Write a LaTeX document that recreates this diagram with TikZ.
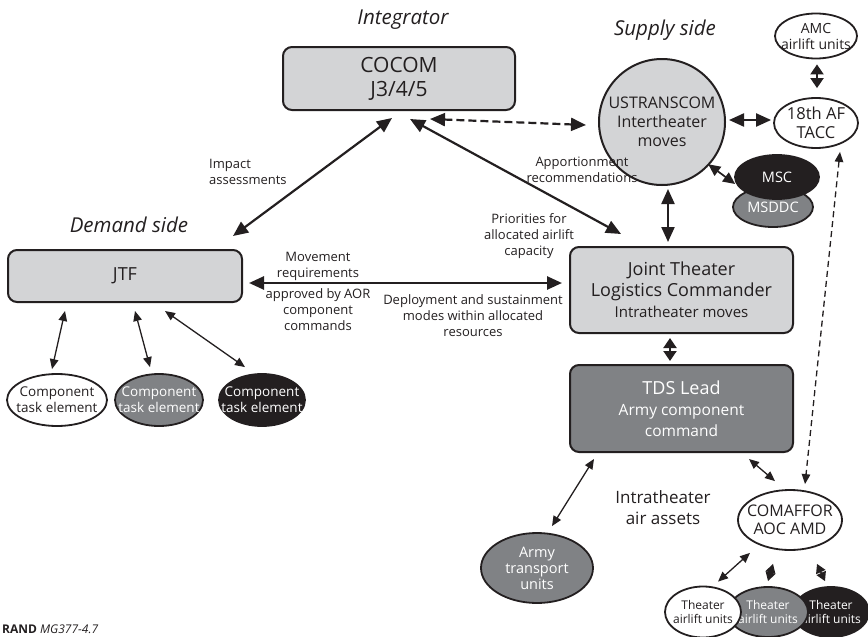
\documentclass[tikz,border=0pt]{standalone}
\usepackage{fontspec}
\setmainfont{Open Sans}
\usetikzlibrary{arrows.meta, calc, positioning, shapes.geometric}

\definecolor{boxgray}{RGB}{211,212,214}
\definecolor{midgray}{RGB}{128,130,133}
\definecolor{ink}{RGB}{35,31,32}

\tikzset{
    box/.style={draw=ink, line width=2pt, rounded corners=9pt,
        fill=boxgray, text=ink, align=center, inner sep=0pt},
    oval/.style={ellipse, draw=ink, line width=1.8pt, inner sep=0pt},
    ovtxt/.style={align=center, inner sep=0pt, text=ink},
    note/.style={align=center, inner sep=0pt, text=ink,
        font=\fontsize{13}{16}\selectfont},
    side/.style={inner sep=0pt, text=ink,
        font=\fontsize{20.5}{24}\selectfont\itshape},
    bigarr/.style={{Triangle[length=15pt, width=13pt]}-{Triangle[length=15pt, width=13pt]},
        draw=ink, line width=2.2pt},
    stubarr/.style={{Triangle[length=10pt, width=13pt]}-{Triangle[length=10pt, width=13pt]},
        draw=ink, line width=2pt},
    midarr/.style={{Triangle[length=12pt, width=11pt]}-{Triangle[length=12pt, width=11pt]},
        draw=ink, line width=1.7pt},
    slimarr/.style={{Triangle[length=10pt, width=8.5pt]}-{Triangle[length=10pt, width=8.5pt]},
        draw=ink, line width=1.3pt},
    slimstub/.style={{Triangle[length=9pt, width=10pt]}-{Triangle[length=9pt, width=10pt]},
        draw=ink, line width=1.5pt},
}

\begin{document}
\begin{tikzpicture}[x=1pt, y=-1pt]
    \useasboundingbox (0,0) rectangle (868,637);
    % headings
    \node[side] (integ) at (403,20) {Integrator};
    \node[side] (supply) at (665,30) {Supply side};
    \node[side] (demand) at (129,225) {Demand side};
    % command boxes
    \node[box, minimum width=232pt, minimum height=63pt,
        font=\fontsize{21}{24}\selectfont] (cocom) at (399,78.5) {COCOM\\J3/4/5};
    \node[box, minimum width=234pt, minimum height=52pt,
        font=\fontsize{18}{21}\selectfont] (jtf) at (125,276) {JTF};
    \node[box, minimum width=223pt, minimum height=86pt,
        font=\fontsize{18}{21}\selectfont] (jtlc) at (681.5,290)
        {Joint Theater\\Logistics Commander\\{\fontsize{15}{18}\selectfont Intratheater moves}};
    \node[box, fill=midgray, text=white, minimum width=223pt, minimum height=87pt,
        font=\fontsize{18}{21}\selectfont] (tds) at (681.5,408.5)
        {TDS Lead\\{\fontsize{15.5}{18}\selectfont Army component}\\{\fontsize{15.5}{18}\selectfont command}};
    % supply side
    \node[circle, draw=ink, line width=2pt, fill=boxgray, minimum size=126pt,
        inner sep=0pt, align=center, text=ink,
        font=\fontsize{16}{19}\selectfont] (ustc) at (662,122)
        {USTRANSCOM\\Intertheater\\moves};
    \node[oval, fill=white, minimum width=82pt, minimum height=45pt,
        label={[ovtxt, font=\fontsize{14}{16}\selectfont]center:{AMC\\airlift units}}] (amc) at (816,36) {};
    \node[oval, fill=white, minimum width=84pt, minimum height=50pt,
        label={[ovtxt, font=\fontsize{16.5}{19}\selectfont]center:{18th AF\\TACC}}] (tacc) at (816,123) {};
    \node[oval, fill=midgray, minimum width=80pt, minimum height=40pt,
        label={[ovtxt, text=white, font=\fontsize{14.5}{17}\selectfont]center:MSDDC}] (msddc) at (773,207) {};
    \node[oval, fill=ink, minimum width=84pt, minimum height=44pt,
        label={[ovtxt, text=white, font=\fontsize{14.5}{17}\selectfont]center:MSC}] (msc) at (777,177) {};
    % component task elements
    \node[oval, fill=white, minimum width=100pt, minimum height=52pt,
        label={[ovtxt, font=\fontsize{13.5}{16}\selectfont]center:{Component\\task element}}] (cte1) at (57,400) {};
    \node[oval, fill=midgray, minimum width=88pt, minimum height=52pt,
        label={[ovtxt, text=white, font=\fontsize{13.5}{16}\selectfont]center:{Component\\task element}}] (cte2) at (159,400) {};
    \node[oval, fill=ink, minimum width=86pt, minimum height=52pt,
        label={[ovtxt, text=white, font=\fontsize{13.5}{16}\selectfont]center:{Component\\task element}}] (cte3) at (262,400) {};
    % intratheater assets
    \node[oval, fill=midgray, minimum width=112pt, minimum height=70pt,
        label={[ovtxt, text=white, font=\fontsize{14.5}{16}\selectfont]center:{Army\\transport\\units}}] (army) at (537,568) {};
    \node[oval, fill=white, minimum width=104pt, minimum height=60pt,
        label={[ovtxt, font=\fontsize{16}{18}\selectfont]center:{COMAFFOR\\AOC AMD}}] (comaffor) at (790,520) {};
    \node[oval, fill=ink, minimum width=76pt, minimum height=50pt,
        label={[ovtxt, text=white, font=\fontsize{12}{14}\selectfont]center:{Theater\\airlift units}}] (thblack) at (831,612) {};
    \node[oval, fill=midgray, minimum width=80pt, minimum height=50pt,
        label={[ovtxt, text=white, font=\fontsize{12}{14}\selectfont]center:{Theater\\airlift units}}] (thgray) at (768,612) {};
    \node[oval, fill=white, minimum width=76pt, minimum height=51pt,
        label={[ovtxt, font=\fontsize{12}{14}\selectfont]center:{Theater\\airlift units}}] (thwhite) at (703,612) {};
    % notes on the links
    \node[note, align=left, anchor=west] (impact) at (209,171.5) {Impact\\assessments};
    \node[note] (apport) at (582,170) {Apportionment\\recommendations};
    \node[note] (prio) at (529,236) {Priorities for\\allocated airlift\\capacity};
    \node[note] (movreq) at (318,266) {Movement\\requirements};
    \node[note] (approved) at (318,310) {approved by AOR\\component\\commands};
    \node[note] (deploy) at (473,316) {Deployment and sustainment\\modes within allocated\\resources};
    \node[note, font=\fontsize{17}{21}\selectfont] (intra) at (663,508) {Intratheater\\air assets};
    \node[anchor=west, inner sep=0pt, text=ink,
        font=\fontsize{12}{14}\selectfont] (rand) at (2,629) {\textbf{RAND} \textit{MG377-4.7}};
    % links
    \draw[bigarr] ($(jtf.north east)+(-10,-13)$) -- ($(cocom.south)+(-7,7)$);
    \draw[bigarr] ($(cocom.south)+(11,8)$) -- ($(jtlc.north west)+(52,-12)$);
    \draw[bigarr, dash pattern=on 8pt off 4pt] ($(cocom.south)+(31,8)$) -- ($(ustc.west)+(-12,3)$);
    \draw[bigarr, line width=2.6pt] ($(jtf.east)+(6,7)$) -- ($(jtlc.west)+(-7,-7)$);
    \draw[bigarr] ($(ustc.south)+(6,3)$) -- ($(jtlc.north)+(-13.5,-4)$);
    \draw[bigarr] ($(ustc.east)+(3,-2)$) -- ($(tacc.west)+(-2,-3)$);
    \draw[stubarr] ($(amc.south)+(1,5)$) -- ($(tacc.north)+(1,-9)$);
    \draw[midarr] ($(ustc.south east)+(1,-3)$) -- ($(msc.west)+(1,7)$);
    \draw[stubarr] ($(jtlc.south)+(-11.5,4)$) -- ($(tds.north)+(-11.5,-3)$);
    \draw[slimarr, dash pattern=on 6pt off 4pt] ($(tacc.south)+(24,3)$) -- ($(comaffor.north)+(15,-5)$);
    \draw[slimarr] ($(tds.south east)+(-45,6)$) -- ($(comaffor.north)+(-15,-8)$);
    \draw[slimarr] ($(tds.south west)+(25,6)$) -- ($(army.north)+(15,-6)$);
    \draw[slimarr] ($(jtf.south west)+(58,8)$) -- ($(cte1.north)+(-5,-4)$);
    \draw[slimarr] ($(jtf.south west)+(128,8)$) -- ($(cte2.north)+(-9,-6)$);
    \draw[slimarr] ($(jtf.south west)+(158,8)$) -- ($(cte3.north)+(-17,-6)$);
    \draw[slimarr] ($(comaffor.south)+(-40,2)$) -- ($(thwhite.north)+(15,-4)$);
    \draw[slimstub] ($(comaffor.south)+(-17,13)$) -- ($(thgray.north)+(0,-5)$);
    \draw[slimstub] ($(comaffor.south)+(27,13)$) -- ($(thblack.north)+(-6,-5)$);
\end{tikzpicture}
\end{document}
